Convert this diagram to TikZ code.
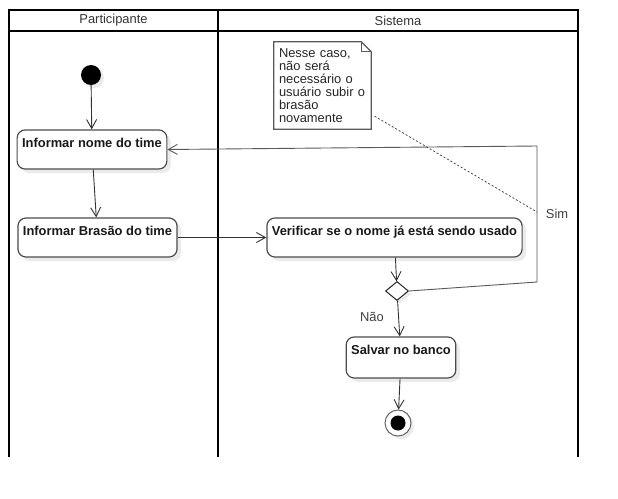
\documentclass[tikz,border=0pt]{standalone}
\usepackage{fontspec}
\setmainfont{Liberation Sans}
\usetikzlibrary{arrows.meta,shapes.geometric,shadows,positioning}

\begin{document}
\begin{tikzpicture}[x=1pt,y=-1pt,
    font=\fontsize{12.9}{13.1}\selectfont,
    raia/.style={line width=2pt,draw=black},
    titulo/.style={text=black!80,inner sep=0pt},
    atividade/.style={draw=black!70,line width=1.2pt,rounded corners=8pt,fill=white,
        font=\fontsize{12.9}{13.1}\selectfont\bfseries,text=black!90,
        inner xsep=5pt,inner ysep=4pt,text height=13.5pt,text depth=17.5pt,
        drop shadow={shadow xshift=4pt,shadow yshift=-4pt,fill=black!8,opacity=1}},
    inicio/.style={circle,fill=black,minimum size=20pt,inner sep=0pt,
        drop shadow={shadow xshift=3pt,shadow yshift=-3pt,fill=black!8,opacity=1}},
    fim/.style={circle,draw=black!60,line width=1pt,fill=white,minimum size=26pt,inner sep=0pt,
        path picture={\fill[black] (path picture bounding box.center) circle (7.5pt);},
        drop shadow={shadow xshift=3pt,shadow yshift=-3pt,fill=black!8,opacity=1}},
    decisao/.style={diamond,draw=black!85,line width=1pt,fill=white,minimum width=23pt,
        minimum height=19pt,inner sep=0pt,
        drop shadow={shadow xshift=3pt,shadow yshift=-3pt,fill=black!8,opacity=1}},
    nota/.style={minimum width=97pt,minimum height=87pt,inner xsep=5pt,inner ysep=0pt,
        text width=87pt,align=left,text=black!85},
    bordanota/.style={draw=black!65,line width=1.2pt},
    rotulo/.style={text=black!75,inner sep=0pt},
    seta/.style={draw=black!80,line width=0.9pt,-{Straight Barb[length=9pt,width=10pt]}}]

    \useasboundingbox (0,0) rectangle (618,498);

    \draw[raia] (9,457) -- (9,10) -- (578,10) -- (578,457);
    \draw[raia] (9,31) -- (578,31);
    \draw[raia] (218,10) -- (218,457);
    \node[titulo] (participante) at (113.5,20.5) {Participante};
    \node[titulo] (sistema) at (398,20.5) {Sistema};

    \node[inicio] (inicio) at (91,75) {};
    \node[atividade] (nome) at (92,149.5) {Informar nome do time};
    \node[atividade] (brasao) at (97.5,237.5) {Informar Brasão do time};
    \node[atividade] (verificar) at (394.5,237.5) {Verificar se o nome já está sendo usado};
    \node[decisao] (decisao) at (397,291) {};
    \node[atividade,text depth=19.5pt] (salvar) at (401,357.5) {Salvar no banco};
    \node[fim] (fim) at (398,423) {};

    \node[nota] (nota) at (322.5,85.5) {Nesse caso,\\não será\\necessário o\\usuário subir o\\brasão\\novamente};
    \draw[bordanota] (nota.north west) -- ([xshift=-10pt]nota.north east) -- ([yshift=-10pt]nota.north east)
        -- (nota.south east) -- (nota.south west) -- cycle;
    \draw[bordanota,line width=0.8pt] ([xshift=-10pt]nota.north east) -- ([xshift=-10pt,yshift=-10pt]nota.north east)
        -- ([yshift=-10pt]nota.north east);

    \coordinate (canto1) at (537,282);
    \coordinate (canto2) at (537,146);
    \coordinate (ancora) at (537,212);

    \draw[seta] (inicio) -- (nome);
    \draw[seta] (nome) -- (brasao);
    \draw[seta] (brasao) -- (verificar);
    \draw[seta] (verificar) -- (decisao);
    \draw[seta,draw=black!65] (decisao.east) -- (canto1) -- (canto2) -- (nome.east);
    \draw[seta] (decisao) -- (salvar);
    \draw[seta] (salvar) -- (fim);
    \draw[black!80,line width=0.7pt,dash pattern=on 2pt off 2pt,shorten <=4pt] (nota) -- (ancora);

    \node[rotulo] (sim) at (557,214) {Sim};
    \node[rotulo] (nao) at (372,317) {Não};
\end{tikzpicture}
\end{document}
